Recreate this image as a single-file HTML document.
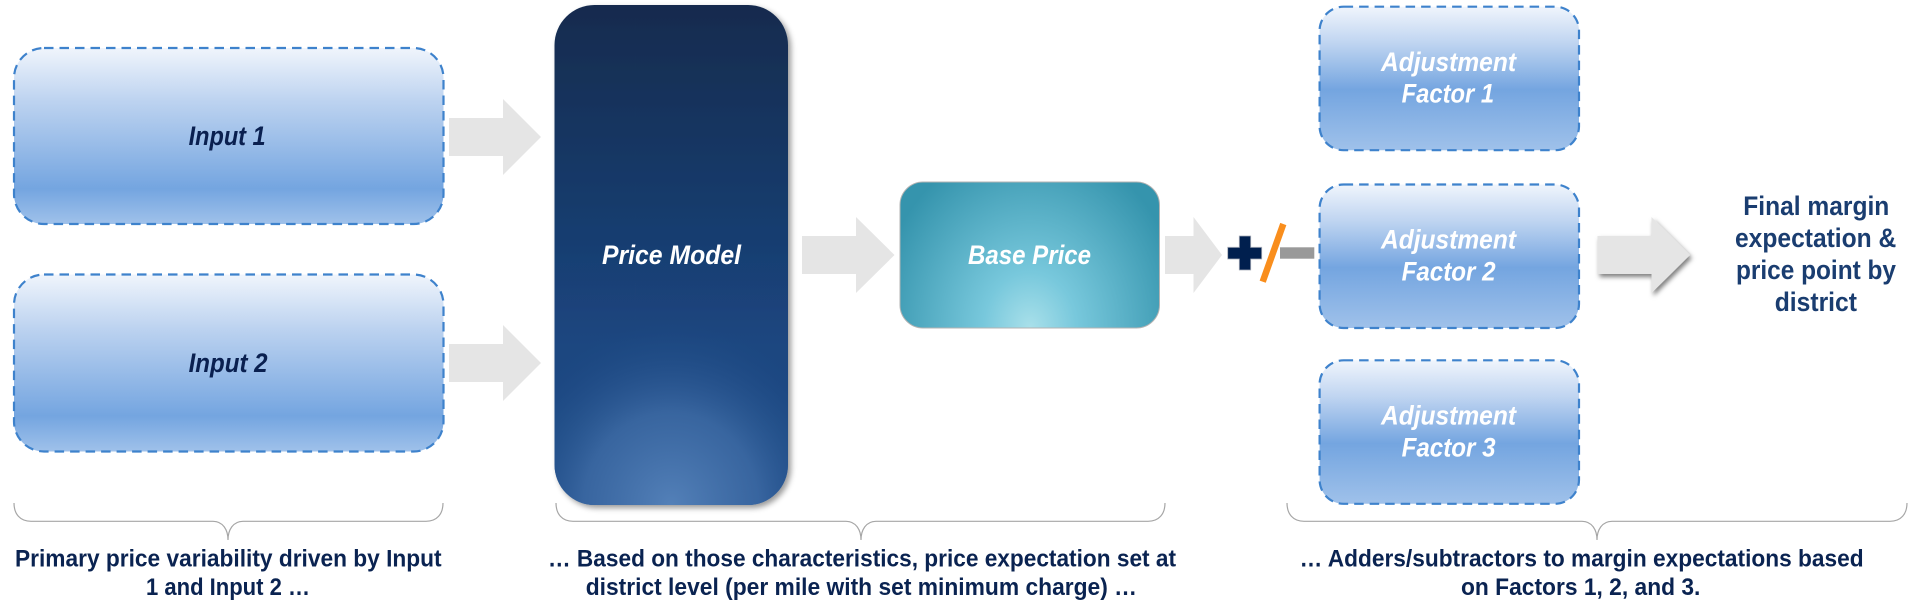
<!DOCTYPE html>
<html><head><meta charset="utf-8"><style>
html,body{margin:0;padding:0;background:#fff;width:1920px;height:616px;overflow:hidden}
svg{display:block}
text{font-family:"Liberation Sans",sans-serif;font-weight:bold}
</style></head><body>
<svg width="1920" height="616" viewBox="0 0 1920 616" xmlns="http://www.w3.org/2000/svg">
<defs>
<linearGradient id="blue" x1="0" y1="0" x2="0" y2="1">
<stop offset="0" stop-color="#f0f5fc"/><stop offset="0.3" stop-color="#bdd3f0"/><stop offset="0.8" stop-color="#74a5e0"/><stop offset="1" stop-color="#9fc1ea"/>
</linearGradient>
<linearGradient id="blue2" x1="0" y1="0" x2="0" y2="1">
<stop offset="0" stop-color="#f0f5fc"/><stop offset="0.25" stop-color="#c0d5f1"/><stop offset="0.58" stop-color="#74a5e0"/><stop offset="1" stop-color="#9fc1ea"/>
</linearGradient>
<linearGradient id="navy" x1="0" y1="0" x2="0" y2="1">
<stop offset="0" stop-color="#132b4e"/><stop offset="0.68" stop-color="#1b4680"/><stop offset="1" stop-color="#1c4a85"/>
</linearGradient>
<radialGradient id="glow" gradientUnits="userSpaceOnUse" cx="671" cy="505" r="185" gradientTransform="translate(671 505) scale(0.95 1) translate(-671 -505)">
<stop offset="0" stop-color="#5380b8" stop-opacity="1"/><stop offset="0.5" stop-color="#3f6ca6" stop-opacity="0.8"/><stop offset="1" stop-color="#1c4a85" stop-opacity="0"/>
</radialGradient>
<radialGradient id="teal" gradientUnits="userSpaceOnUse" cx="1030" cy="328" r="155" gradientTransform="translate(1030 328) scale(1 1.2) translate(-1030 -328)">
<stop offset="0" stop-color="#a9e0ea"/><stop offset="0.3" stop-color="#78c8dc"/><stop offset="1" stop-color="#3594ad"/>
</radialGradient>
<filter id="sh" x="-10%" y="-10%" width="120%" height="120%"><feDropShadow dx="3" dy="3" stdDeviation="3" flood-color="#000" flood-opacity="0.4"/></filter>
<filter id="sh2" x="-20%" y="-20%" width="140%" height="140%"><feDropShadow dx="2" dy="3" stdDeviation="2.5" flood-color="#000" flood-opacity="0.5"/></filter>
</defs>

<!-- Inputs -->
<rect x="14" y="48" width="429.5" height="176" rx="30" fill="url(#blue)" stroke="#3e82cc" stroke-width="2.2" stroke-dasharray="9.5 6"/>
<rect x="14" y="274.5" width="429.5" height="177" rx="30" fill="url(#blue)" stroke="#3e82cc" stroke-width="2.2" stroke-dasharray="9.5 6"/>
<text font-style="italic" x="188.6" y="145" font-size="26.5" fill="#0a2050" textLength="77" lengthAdjust="spacingAndGlyphs">Input 1</text>
<text font-style="italic" x="188.6" y="372" font-size="26.5" fill="#0a2050" textLength="79" lengthAdjust="spacingAndGlyphs">Input 2</text>

<!-- Arrows -->
<g fill="#e5e5e5">
<polygon points="449,118 503,118 503,99 541,137 503,175 503,156 449,156"/>
<polygon points="449,344 503,344 503,325 541,363 503,401 503,382 449,382"/>
<polygon points="802,236 856,236 856,217 894.5,255 856,293 856,274 802,274"/>
<polygon points="1165,236 1193.5,236 1193.5,217 1222,255 1193.5,293 1193.5,274 1165,274"/>
<polygon filter="url(#sh2)" points="1597.5,236 1651.5,236 1651.5,217 1690,255 1651.5,293 1651.5,274 1597.5,274"/>
</g>

<!-- Price Model -->
<g filter="url(#sh)">
<rect x="554.5" y="5" width="233.5" height="500" rx="40" fill="url(#navy)"/>
</g>
<rect x="554.5" y="5" width="233.5" height="500" rx="40" fill="url(#glow)"/>
<text font-style="italic" x="602" y="264" font-size="26.5" fill="#fff" textLength="139" lengthAdjust="spacingAndGlyphs">Price Model</text>

<!-- Base Price -->
<rect x="900" y="182" width="259.5" height="146" rx="23" fill="url(#teal)" stroke="#b3b3b3" stroke-width="1"/>
<text font-style="italic" x="968" y="264" font-size="26.5" fill="#fff" textLength="123" lengthAdjust="spacingAndGlyphs">Base Price</text>

<!-- plus slash minus -->
<polygon points="1239.3,236 1250.7,236 1250.7,247.3 1261.7,247.3 1261.7,259 1250.7,259 1250.7,270 1239.3,270 1239.3,259 1227.7,259 1227.7,247.3 1239.3,247.3" fill="#001f4e" stroke="#a8adb8" stroke-width="0.8"/>
<line x1="1283.3" y1="224" x2="1262.7" y2="281.7" stroke="#f98e1d" stroke-width="6.5"/>
<rect x="1280" y="247.3" width="34.3" height="11.4" fill="#999"/>

<!-- Adjustments -->
<rect x="1319.6" y="6.7" width="259.4" height="143.5" rx="24" fill="url(#blue2)" stroke="#3e82cc" stroke-width="2.2" stroke-dasharray="9.5 6"/>
<rect x="1319.6" y="184.5" width="259.4" height="143.5" rx="24" fill="url(#blue2)" stroke="#3e82cc" stroke-width="2.2" stroke-dasharray="9.5 6"/>
<rect x="1319.6" y="360.3" width="259.4" height="143.5" rx="24" fill="url(#blue2)" stroke="#3e82cc" stroke-width="2.2" stroke-dasharray="9.5 6"/>
<g fill="#fff" font-size="26.5" font-style="italic">
<text x="1381" y="71" textLength="135" lengthAdjust="spacingAndGlyphs">Adjustment</text>
<text x="1401.6" y="102.7" textLength="92.5" lengthAdjust="spacingAndGlyphs">Factor 1</text>
<text x="1381" y="248.7" textLength="135" lengthAdjust="spacingAndGlyphs">Adjustment</text>
<text x="1401.6" y="280.7" textLength="94" lengthAdjust="spacingAndGlyphs">Factor 2</text>
<text x="1381" y="424.7" textLength="135" lengthAdjust="spacingAndGlyphs">Adjustment</text>
<text x="1401.6" y="456.3" textLength="94" lengthAdjust="spacingAndGlyphs">Factor 3</text>
</g>

<!-- Final -->
<g fill="#1a3d70" font-size="27">
<text x="1743.3" y="215" textLength="146" lengthAdjust="spacingAndGlyphs">Final margin</text>
<text x="1735" y="247" textLength="161.3" lengthAdjust="spacingAndGlyphs">expectation &amp;</text>
<text x="1736" y="279" textLength="160" lengthAdjust="spacingAndGlyphs">price point by</text>
<text x="1774.7" y="311" textLength="82.3" lengthAdjust="spacingAndGlyphs">district</text>
</g>

<!-- Braces -->
<g fill="none" stroke="#a6a6a6" stroke-width="1.2">
<path d="M14,503 C14,514 20,521.3 31,521.3 L213,521.3 C223,521.3 228,530 228,540 C228,530 233,521.3 243,521.3 L426,521.3 C437,521.3 443,514 443,503"/>
<path d="M556,503 C556,514 562,521.3 573,521.3 L846,521.3 C856,521.3 861,530 861,540 C861,530 866,521.3 876,521.3 L1148,521.3 C1159,521.3 1165,514 1165,503"/>
<path d="M1287,503 C1287,514 1293,521.3 1304,521.3 L1582,521.3 C1592,521.3 1597,530 1597,540 C1597,530 1602,521.3 1612,521.3 L1890,521.3 C1901,521.3 1907,514 1907,503"/>
</g>

<!-- Bottom captions -->
<g fill="#0a2351" font-size="24">
<text x="15" y="566.3" textLength="426.6" lengthAdjust="spacingAndGlyphs">Primary price variability driven by Input</text>
<text x="146" y="595" textLength="164" lengthAdjust="spacingAndGlyphs">1 and Input 2 …</text>
<text x="548" y="566.3" textLength="628" lengthAdjust="spacingAndGlyphs">… Based on those characteristics, price expectation set at</text>
<text x="585.7" y="595" textLength="551.3" lengthAdjust="spacingAndGlyphs">district level (per mile with set minimum charge) …</text>
<text x="1299.6" y="566.3" textLength="564" lengthAdjust="spacingAndGlyphs">… Adders/subtractors to margin expectations based</text>
<text x="1461" y="595" textLength="239.4" lengthAdjust="spacingAndGlyphs">on Factors 1, 2, and 3.</text>
</g>
</svg>
</body></html>
